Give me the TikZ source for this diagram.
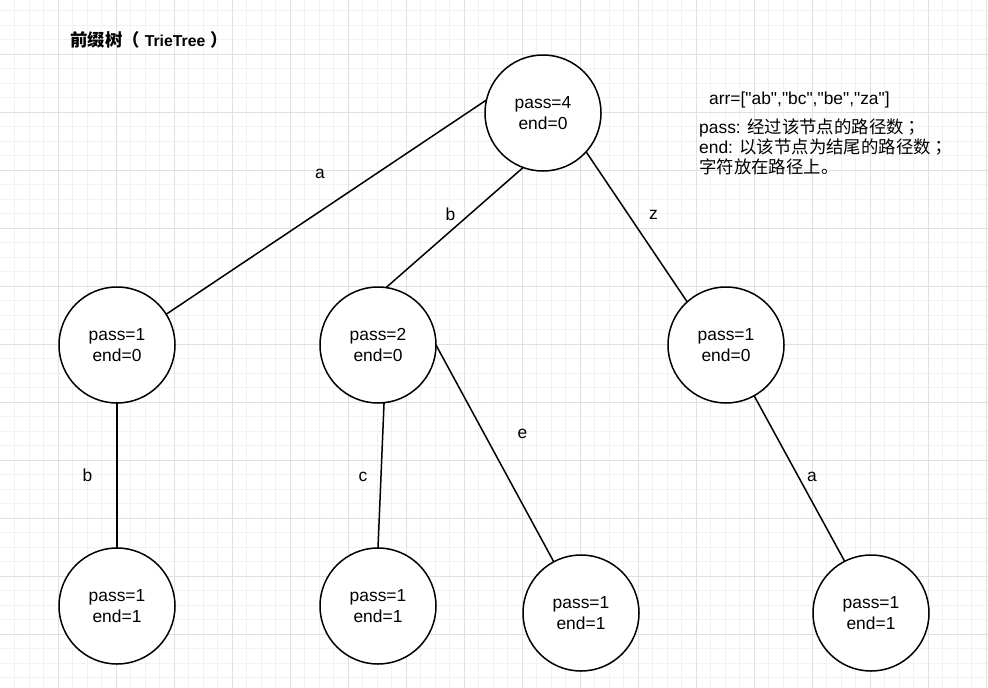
\documentclass[tikz,border=0pt]{standalone}
\usepackage{fontspec}
\setmainfont{Liberation Sans}
% plain family without TeX ligatures, so that " stays a straight quote
\newfontfamily\plainsans{Liberation Sans}
\newfontfamily\cjk{Noto Sans CJK SC}
\newfontfamily\cjkpunct{Noto Sans CJK TC}
\definecolor{minorcol}{RGB}{242,242,242}
\definecolor{majorcol}{RGB}{224,224,224}
\begin{document}
\begin{tikzpicture}[x=1pt,y=-1pt,
  trienode/.style={circle,draw=black,line width=1.5pt,fill=white,minimum size=116pt,
    inner sep=0pt,outer sep=0pt,align=center,font=\fontsize{17.4}{21.7}\selectfont},
  edge/.style={line width=1.5pt,draw=black},
  edgelabel/.style={anchor=base,inner sep=0pt,font=\fontsize{17.4}{20}\selectfont},
  legend/.style={anchor=base west,inner sep=0pt,font=\fontsize{17.4}{20}\selectfont},
  gridminor/.style={draw=minorcol,line width=1pt},
  gridmajor/.style={draw=majorcol,line width=1pt}
]
% canvas and background grid
\useasboundingbox (0,0) rectangle (988,688);
\fill[white] (0,0) rectangle (988,688);
\foreach \x in {14.5,29,...,987} \draw[gridminor] (\x,0) -- (\x,688);
\foreach \y in {10.5,25,...,688} \draw[gridminor] (0,\y) -- (988,\y);
\foreach \x in {58,116,...,987} \draw[gridmajor] (\x,0) -- (\x,688);
\foreach \y in {54,112,...,688} \draw[gridmajor] (0,\y) -- (988,\y);

% title
\node[anchor=base west,inner sep=0pt,font=\fontsize{17.4}{20}\selectfont\bfseries] (title)
  at (70,46) {{\cjk 前缀树}{\cjkpunct （}\kern5pt{\fontsize{15.8}{20}\selectfont TrieTree}\kern5pt{\cjkpunct ）}};

% legend
\node[legend] (arr) at (709,104.5) {\plainsans arr=["ab","bc","be","za"]};
\node[legend] (lpass) at (699,133.3) {pass: {\cjk 经过该节点的路径数}{\cjkpunct ；}};
\node[legend] (lend) at (699,153.3) {end: {\cjk 以该节点为结尾的路径数}{\cjkpunct ；}};
\node[legend] (lchar) at (699,173.3) {{\cjk 字符放在路径上。}};

% trie nodes
\node[trienode] (root) at (543,113) {pass=4\\end=0};
\node[trienode] (na) at (117,345) {pass=1\\end=0};
\node[trienode] (nb) at (378,345) {pass=2\\end=0};
\node[trienode] (nz) at (726,345) {pass=1\\end=0};
\node[trienode] (nab) at (117,606) {pass=1\\end=1};
\node[trienode] (nbc) at (378,606) {pass=1\\end=1};
\node[trienode] (nbe) at (581,613) {pass=1\\end=1};
\node[trienode] (nza) at (871,613) {pass=1\\end=1};

% edges
\draw[edge] (root.167.6) -- (na.32.6);
\draw[edge] (root.250.4) -- (nb.82);
\draw[edge] (root.-42.9) -- (nz.132.3);
\draw[edge] (na.south) -- (nab.north);
\draw[edge] (nb.-84.1) -- (nbc.north);
\draw[edge] (nb.east) -- (nbe.118.3);
\draw[edge] (nz.-61.7) -- (nza.117.8);

% characters on the paths
\node[edgelabel] (la) at (320,178) {a};
\node[edgelabel] (lb) at (450.5,220) {b};
\node[edgelabel] (lz) at (653.5,219.5) {z};
\node[edgelabel] (lab) at (87.5,481) {b};
\node[edgelabel] (lbc) at (363,481) {c};
\node[edgelabel] (lbe) at (522.5,438) {e};
\node[edgelabel] (lza) at (812,481) {a};
\end{tikzpicture}
\end{document}
